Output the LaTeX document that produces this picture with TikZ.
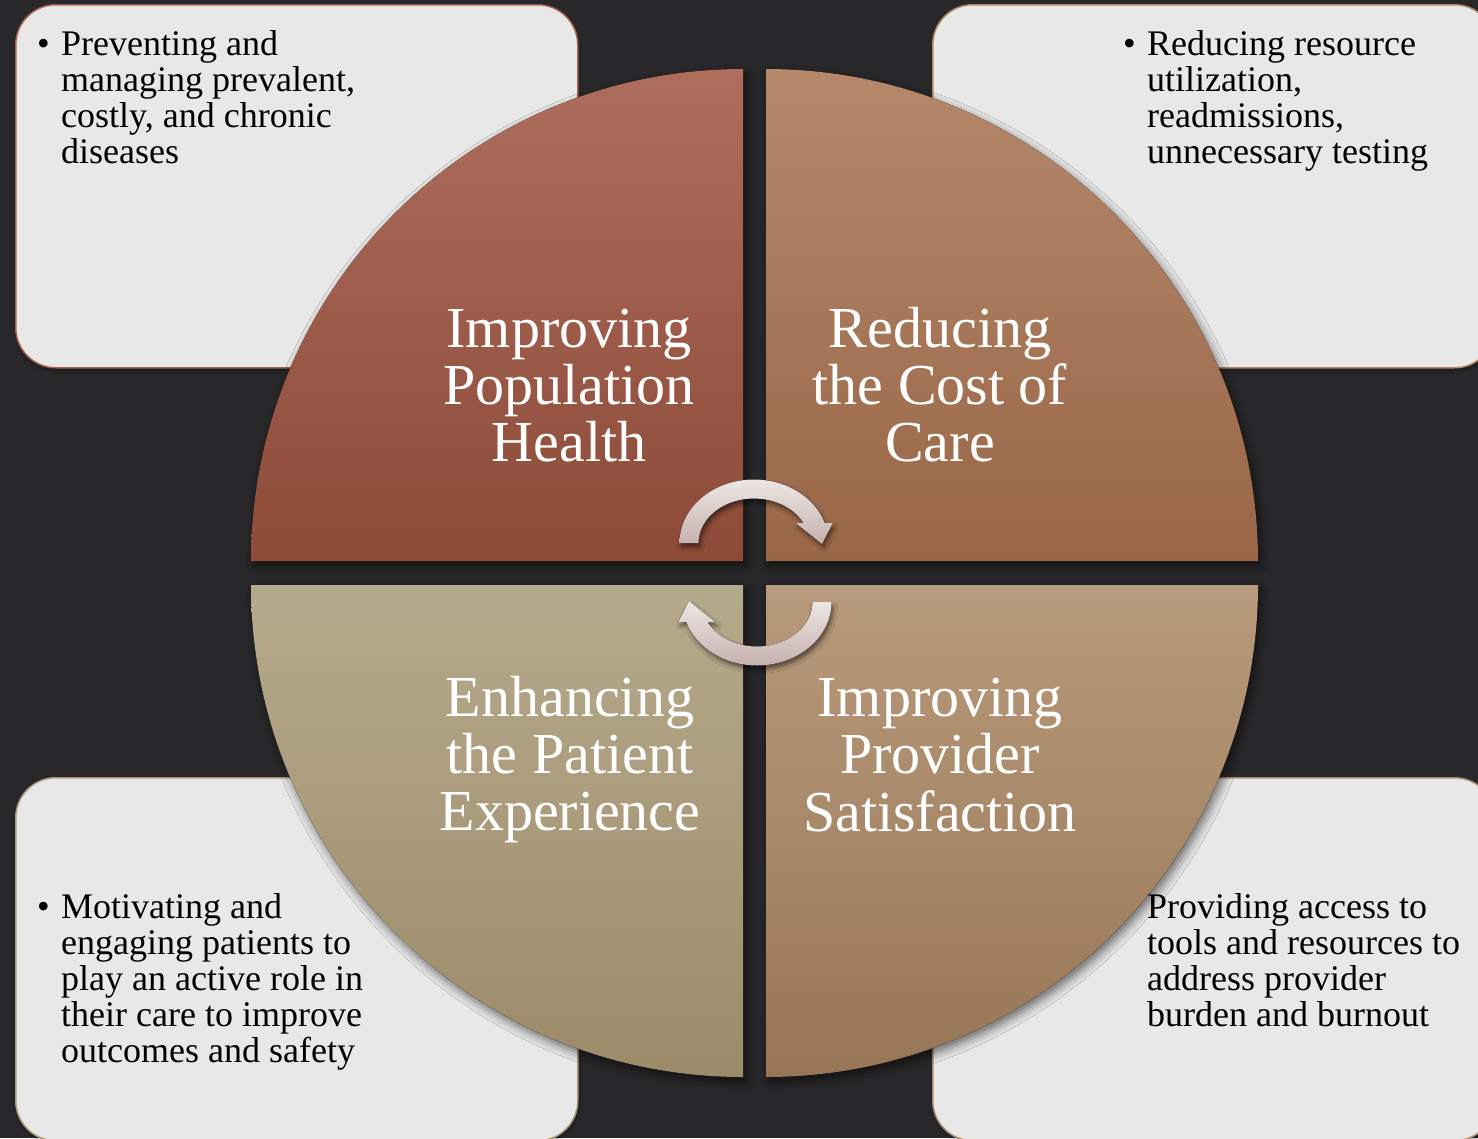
\documentclass[tikz,border=0pt]{standalone}
\usepackage{fontspec}
\setmainfont{Liberation Serif}
\usetikzlibrary{shadows.blur}
\definecolor{bgc}{HTML}{28282A}
\definecolor{boxfill}{HTML}{E8E8E8}
\definecolor{tlborder}{HTML}{A3604C}
\definecolor{trborder}{HTML}{B58461}
\definecolor{blborder}{HTML}{A99B7A}
\definecolor{brborder}{HTML}{A98A6B}
\definecolor{tltop}{HTML}{AE6E5E}
\definecolor{tlbot}{HTML}{8C4A37}
\definecolor{trtop}{HTML}{B5886B}
\definecolor{trbot}{HTML}{996647}
\definecolor{bltop}{HTML}{B6AA8C}
\definecolor{blbot}{HTML}{9C8B69}
\definecolor{brtop}{HTML}{B89B7C}
\definecolor{brbot}{HTML}{977656}
\definecolor{arrtop}{HTML}{EDE6E4}
\definecolor{arrbot}{HTML}{C6B2AE}
\newcommand\mylinesc[1]{\begin{tabular}[t]{@{}c@{}}#1\end{tabular}}
\newcommand\mylinesl[1]{\begin{tabular}[t]{@{}l@{}}#1\end{tabular}}
\begin{document}
\begin{tikzpicture}[x=1pt,y=1pt,
  infobox/.style={draw, line width=1.5pt, fill=boxfill, rounded corners=40pt,
    minimum width=562pt, minimum height=363pt, anchor=north west, inner sep=0pt,
    blur shadow={shadow xshift=1pt, shadow yshift=-3pt, shadow blur radius=4pt, shadow opacity=35}},
  boxtext/.style={anchor=base west, inner sep=0pt, text=black, font=\fontsize{36}{36}\selectfont},
  qlabel/.style={anchor=base, inner sep=0pt, text=white, font=\fontsize{58}{57}\selectfont},
  quad/.style={blur shadow={shadow xshift=3pt, shadow yshift=-5pt, shadow blur radius=9pt, shadow opacity=55}},
  cycarrow/.style={top color=arrtop, bottom color=arrbot,
    blur shadow={shadow xshift=2pt, shadow yshift=-4pt, shadow blur radius=4pt, shadow opacity=50}}
]
\useasboundingbox (0,0) rectangle (1478,-1138);
\fill[bgc] (0,0) rectangle (1478,-1138);

% side boxes
\node[infobox, draw=tlborder] (boxTL) at (15,-4) {};
\node[infobox, draw=trborder] (boxTR) at (932,-4) {};
\node[infobox, draw=blborder] (boxBL) at (15,-777) {};
\node[infobox, draw=brborder] (boxBR) at (932,-777) {};

% quadrants
\fill[quad, top color=tltop, bottom color=tlbot]
  (743,-561) -- (251,-561) arc[start angle=180, end angle=90, radius=492] -- cycle;
\fill[quad, top color=trtop, bottom color=trbot]
  (766,-561) -- (766,-69) arc[start angle=90, end angle=0, radius=492] -- cycle;
\fill[quad, top color=bltop, bottom color=blbot]
  (743,-585) -- (251,-585) arc[start angle=180, end angle=270, radius=492] -- cycle;
\fill[quad, top color=brtop, bottom color=brbot]
  (766,-585) -- (1258,-585) arc[start angle=0, end angle=-90, radius=492] -- cycle;

% quadrant labels
\node[qlabel] (labTL) at (569,-347) {\mylinesc{Improving\\Population\\Health}};
\node[qlabel] (labTR) at (940,-347) {\mylinesc{Reducing\\the Cost of\\Care}};
\node[qlabel] (labBL) at (570,-716) {\mylinesc{Enhancing\\the Patient\\Experience}};
\node[qlabel] (labBR) at (940,-716) {\mylinesc{Improving\\Provider\\Satisfaction}};

% cycle arrows
\fill[cycarrow]
  (698.5,-543) -- (679.5,-543)
  arc[start angle=180, end angle=18.4, x radius=74.5, y radius=63.5]
  -- (832.7,-523) -- (822,-544) -- (795.7,-523) -- (803.6,-523)
  arc[start angle=26.7, end angle=180, x radius=55.5, y radius=44.5] -- cycle;
\fill[cycarrow]
  (812.5,-602) -- (831.5,-602)
  arc[start angle=0, end angle=-161.6, x radius=74.5, y radius=63.5]
  -- (678.3,-622) -- (689,-601) -- (715.3,-622) -- (707.4,-622)
  arc[start angle=-153.3, end angle=0, x radius=55.5, y radius=44.5] -- cycle;

% box texts
\node[boxtext] (bulTL) at (37,-55) {•};
\node[boxtext] (txtTL) at (61,-55) {\mylinesl{Preventing and\\managing prevalent,\\costly, and chronic\\diseases}};
\node[boxtext] (bulTR) at (1123,-55) {•};
\node[boxtext] (txtTR) at (1147,-55) {\mylinesl{Reducing resource\\utilization,\\readmissions,\\unnecessary testing}};
\node[boxtext] (bulBL) at (37,-918) {•};
\node[boxtext] (txtBL) at (61,-918) {\mylinesl{Motivating and\\engaging patients to\\play an active role in\\their care to improve\\outcomes and safety}};
\node[boxtext] (txtBR) at (1147,-918) {\mylinesl{Providing access to\\tools and resources to\\address provider\\burden and burnout}};
\end{tikzpicture}
\end{document}
